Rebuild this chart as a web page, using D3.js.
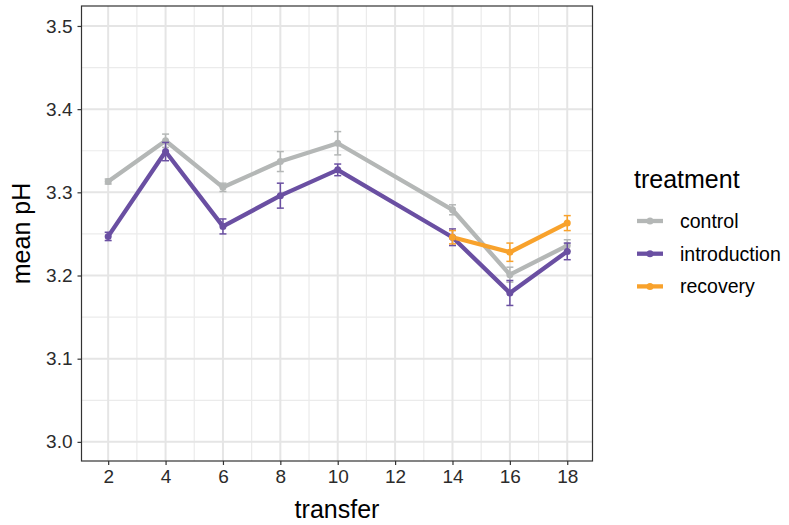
<!DOCTYPE html>
<html>
<head>
<meta charset="utf-8">
<script src="https://cdn.jsdelivr.net/npm/d3@7"></script>
<style>
  body { margin: 0; background: #fff; }
  svg { display: block; font-family: "Liberation Sans", Arial, Helvetica, sans-serif; }
</style>
</head>
<body>
<div id="chart"></div>
<script>
const width = 789, height = 525;

// data
const transfers = [2, 4, 6, 8, 10, 14, 16, 18];
const controlMean = [3.313, 3.362, 3.306, 3.337, 3.359, 3.279, 3.201, 3.236];
const controlErr = [0.003, 0.008, 0.005, 0.012, 0.014, 0.006, 0.009, 0.007];
const introMean = [3.247, 3.349, 3.259, 3.296, 3.327, 3.246, 3.179, 3.229];
const introErr = [0.005, 0.011, 0.009, 0.015, 0.007, 0.010, 0.015, 0.010];
const recoveryX = [14, 16, 18];
const recoveryMean = [3.246, 3.228, 3.263];
const recoveryErr = [0.008, 0.011, 0.009];

const treatments = ["control", "introduction", "recovery"];
const colors = ["#b4b7b6", "#6a4fa2", "#f8a22c"];
const xTicks = [2, 4, 6, 8, 10, 12, 14, 16, 18];
const yTicks = [3.0, 3.1, 3.2, 3.3, 3.4, 3.5];

const series = [
  { name: "control", xs: transfers, ys: controlMean, es: controlErr },
  { name: "introduction", xs: transfers, ys: introMean, es: introErr },
  { name: "recovery", xs: recoveryX, ys: recoveryMean, es: recoveryErr }
].map(s => ({ name: s.name, pts: s.xs.map((x, i) => ({ x: x, y: s.ys[i], e: s.es[i] })) }));

const panel = { left: 81.5, right: 592.5, top: 6, bottom: 461 };

const x = d3.scaleLinear().domain([1.07, 18.88]).range([panel.left, panel.right]);
const y = d3.scaleLinear().domain([2.977, 3.524]).range([panel.bottom, panel.top]);
const color = d3.scaleOrdinal().domain(treatments).range(colors);

const svg = d3.select("#chart").append("svg")
    .attr("width", width)
    .attr("height", height);

// grid
const grid = svg.append("g");
const xMinor = d3.range(3, 18, 2);
const yMinor = [3.05, 3.15, 3.25, 3.35, 3.45];
grid.selectAll(".xminor").data(xMinor).enter().append("line")
    .attr("x1", d => x(d)).attr("x2", d => x(d))
    .attr("y1", panel.top).attr("y2", panel.bottom)
    .attr("stroke", "#ebebeb").attr("stroke-width", 1.2);
grid.selectAll(".yminor").data(yMinor).enter().append("line")
    .attr("x1", panel.left).attr("x2", panel.right)
    .attr("y1", d => y(d)).attr("y2", d => y(d))
    .attr("stroke", "#ebebeb").attr("stroke-width", 1.2);
grid.selectAll(".xmajor").data(xTicks).enter().append("line")
    .attr("x1", d => x(d)).attr("x2", d => x(d))
    .attr("y1", panel.top).attr("y2", panel.bottom)
    .attr("stroke", "#e5e5e5").attr("stroke-width", 2);
grid.selectAll(".ymajor").data(yTicks).enter().append("line")
    .attr("x1", panel.left).attr("x2", panel.right)
    .attr("y1", d => y(d)).attr("y2", d => y(d))
    .attr("stroke", "#e5e5e5").attr("stroke-width", 2);

// axes
const xAxis = svg.append("g")
    .attr("transform", `translate(0,${panel.bottom})`)
    .call(d3.axisBottom(x).tickValues(xTicks).tickSize(4).tickPadding(5).tickFormat(d3.format("d")));
const yAxis = svg.append("g")
    .attr("transform", `translate(${panel.left},0)`)
    .call(d3.axisLeft(y).tickValues(yTicks).tickSize(4).tickPadding(5).tickFormat(d3.format(".1f")));
[xAxis, yAxis].forEach(a => {
  a.select(".domain").remove();
  a.selectAll(".tick line").attr("stroke", "#333").attr("stroke-width", 1.2);
  a.selectAll(".tick text").attr("fill", "#2b2b2b").style("font-size", "19px");
});

// series
const line = d3.line().x(d => x(d.x)).y(d => y(d.y));
const layer = svg.append("g");
series.forEach(s => {
  layer.append("path")
      .datum(s.pts)
      .attr("d", line)
      .attr("fill", "none")
      .attr("stroke", color(s.name))
      .attr("stroke-width", 4.3)
      .attr("stroke-linejoin", "round");
});
series.forEach(s => {
  const c = color(s.name);
  const g = layer.append("g");
  g.selectAll("circle").data(s.pts).enter().append("circle")
      .attr("cx", d => x(d.x)).attr("cy", d => y(d.y)).attr("r", 3.5)
      .attr("fill", c);
  const eb = g.selectAll(".eb").data(s.pts).enter().append("g");
  eb.append("line")
      .attr("x1", d => x(d.x)).attr("x2", d => x(d.x))
      .attr("y1", d => y(d.y - d.e)).attr("y2", d => y(d.y + d.e))
      .attr("stroke", c).attr("stroke-width", 1.5);
  [-1, 1].forEach(sgn => {
    eb.append("line")
        .attr("x1", d => x(d.x) - 3.5).attr("x2", d => x(d.x) + 3.5)
        .attr("y1", d => y(d.y + sgn * d.e)).attr("y2", d => y(d.y + sgn * d.e))
        .attr("stroke", c).attr("stroke-width", 1.5);
  });
});

// panel border
svg.append("rect")
    .attr("x", panel.left).attr("y", panel.top)
    .attr("width", panel.right - panel.left).attr("height", panel.bottom - panel.top)
    .attr("fill", "none").attr("stroke", "#333").attr("stroke-width", 1.2);

// axis titles
svg.append("text")
    .attr("x", (panel.left + panel.right) / 2).attr("y", 518)
    .attr("text-anchor", "middle")
    .style("font-size", "25px")
    .text("transfer");
svg.append("text")
    .attr("transform", `translate(30,${(panel.top + panel.bottom) / 2}) rotate(-90)`)
    .attr("text-anchor", "middle")
    .style("font-size", "25px")
    .text("mean pH");

// legend
const legend = svg.append("g");
legend.append("text")
    .attr("x", 634).attr("y", 188)
    .style("font-size", "25px")
    .text("treatment");
treatments.forEach((t, i) => {
  const ly = 221 + i * 32.7;
  legend.append("line")
      .attr("x1", 637).attr("x2", 663).attr("y1", ly).attr("y2", ly)
      .attr("stroke", color(t)).attr("stroke-width", 4.3);
  legend.append("circle")
      .attr("cx", 650).attr("cy", ly).attr("r", 3.5)
      .attr("fill", color(t));
  legend.append("text")
      .attr("x", 680).attr("y", ly + 7)
      .style("font-size", "19.5px")
      .text(t);
});
</script>
</body>
</html>
